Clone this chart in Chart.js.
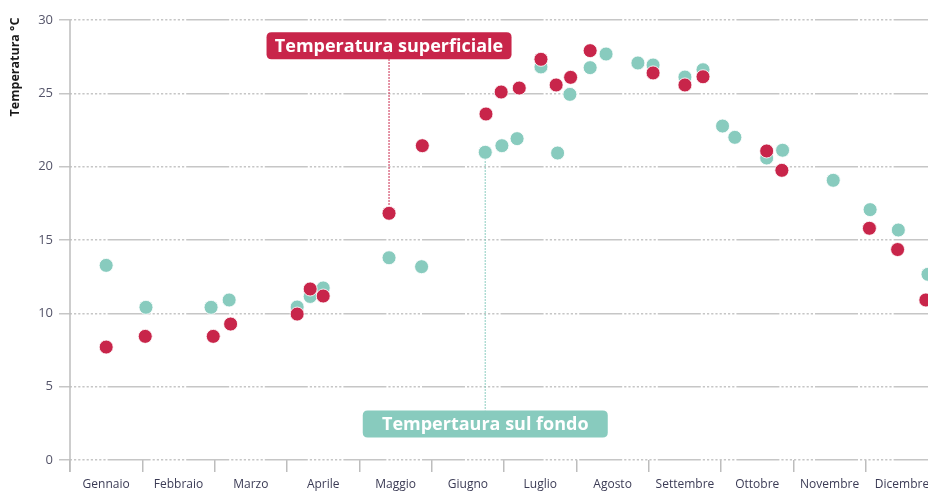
<!DOCTYPE html>
<html lang="it">
<head>
<meta charset="utf-8">
<title>Temperatura</title>
<script src="https://cdn.jsdelivr.net/npm/chart.js@4/dist/chart.umd.min.js"></script>
<style>
  html, body { margin: 0; padding: 0; background: #fff; overflow: hidden; }
  #wrap { width: 928px; height: 493px; position: relative; }
  #chart { display: block; }
</style>
</head>
<body>
<div id="wrap"><canvas id="chart"></canvas></div>
<script>
// months as positions on a continuous axis: 0 = start of Gennaio, 1 = start of Febbraio ...
const monthLabels = ['Gennaio', 'Febbraio', 'Marzo', 'Aprile', 'Maggio', 'Giugno',
  'Luglio', 'Agosto', 'Settembre', 'Ottobre', 'Novembre', 'Dicembre'];
const monthStarts = [0, 1, 2, 3, 4, 5, 6, 7, 8, 9, 10, 11];
const yTicks = [0, 5, 10, 15, 20, 25, 30];
const yTitle = 'Temperatura °C';

// superficial temperature samples
const surfaceDays = [0.50, 1.04, 1.98, 2.22, 3.14, 3.32, 3.50, 4.41, 4.87, 5.75, 5.96, 6.21,
  6.51, 6.72, 6.92, 7.19, 8.06, 8.50, 8.75, 9.63, 9.84, 11.05, 11.44, 11.83];
const surfaceTemps = [7.70, 8.43, 8.43, 9.27, 9.95, 11.66, 11.18, 16.82, 21.43, 23.59, 25.09, 25.36,
  27.32, 25.57, 26.09, 27.91, 26.39, 25.57, 26.13, 21.07, 19.75, 15.80, 14.35, 10.91];

// bottom temperature samples
const bottomDays = [0.50, 1.05, 1.95, 2.20, 3.14, 3.32, 3.50, 4.41, 4.86, 5.74, 5.97, 6.18,
  6.51, 6.74, 6.91, 7.19, 7.41, 7.85, 8.06, 8.50, 8.75, 9.02, 9.19, 9.63, 9.85, 10.55,
  11.06, 11.45, 11.86];
const bottomTemps = [13.27, 10.41, 10.41, 10.91, 10.43, 11.15, 11.73, 13.79, 13.18, 20.98, 21.43, 21.91,
  26.80, 20.93, 24.93, 26.75, 27.68, 27.07, 26.93, 26.11, 26.61, 22.77, 22.00, 20.59, 21.12, 19.07,
  17.07, 15.68, 12.66];

const RED = '#c8254a';
const TEAL = '#88cbbe';
const GRID = '#c6c6c6';
const X_MAX = 11.86;

// callouts hang off one point of a series; labelY is the box centre in °C
const callouts = [
  { text: 'Temperatura superficiale', dataset: 0, index: 7, labelY: 28.25, color: RED },
  { text: 'Tempertaura sul fondo', dataset: 1, index: 9, labelY: 2.45, color: TEAL }
];

function toPoints(xs, ys) {
  return xs.map((x, i) => ({ x: x, y: ys[i] }));
}

// solid run followed by a dotted run, repeated along each horizontal grid line
const gridDash = [43, 2];
for (let i = 0; i < 8; i++) gridDash.push(2.2, 2);

function roundRect(ctx, x, y, w, h, r) {
  ctx.beginPath();
  ctx.moveTo(x + r, y);
  ctx.lineTo(x + w - r, y);
  ctx.quadraticCurveTo(x + w, y, x + w, y + r);
  ctx.lineTo(x + w, y + h - r);
  ctx.quadraticCurveTo(x + w, y + h, x + w - r, y + h);
  ctx.lineTo(x + r, y + h);
  ctx.quadraticCurveTo(x, y + h, x, y + h - r);
  ctx.lineTo(x, y + r);
  ctx.quadraticCurveTo(x, y, x + r, y);
  ctx.closePath();
}

const decorPlugin = {
  id: 'decor',
  beforeDatasetsDraw(chart) {
    const ctx = chart.ctx;
    const area = chart.chartArea;
    const yScale = chart.scales.y;

    // vertical axis line, running down through the month tick marks
    ctx.save();
    ctx.strokeStyle = '#bdbdbd';
    ctx.lineWidth = 1.5;
    ctx.beginPath();
    ctx.moveTo(area.left, area.top);
    ctx.lineTo(area.left, area.bottom + 12);
    ctx.stroke();
    ctx.restore();

    callouts.forEach(c => {
      const pt = chart.getDatasetMeta(c.dataset).data[c.index];
      const cy = yScale.getPixelForValue(c.labelY);
      const boxW = 245, boxH = 27;
      const top = cy - boxH / 2, bottom = cy + boxH / 2;

      ctx.save();
      ctx.strokeStyle = c.color;
      ctx.lineWidth = 1.3;
      ctx.setLineDash([1.5, 1.5]);
      ctx.beginPath();
      if (cy < pt.y) {
        ctx.moveTo(pt.x, bottom);
        ctx.lineTo(pt.x, pt.y);
      } else {
        ctx.moveTo(pt.x, pt.y);
        ctx.lineTo(pt.x, top);
      }
      ctx.stroke();
      ctx.setLineDash([]);

      ctx.fillStyle = c.color;
      roundRect(ctx, pt.x - boxW / 2, top, boxW, boxH, 5);
      ctx.fill();

      ctx.fillStyle = '#fff';
      ctx.font = 'bold 18px "Open Sans", sans-serif';
      ctx.textAlign = 'center';
      ctx.textBaseline = 'middle';
      ctx.fillText(c.text, pt.x, cy + 1);
      ctx.restore();
    });
  },
  afterDraw(chart) {
    const ctx = chart.ctx;
    ctx.save();
    ctx.translate(15, chart.chartArea.top + 47);
    ctx.rotate(-Math.PI / 2);
    ctx.font = 'bold 12.5px "Open Sans", sans-serif';
    ctx.fillStyle = '#1a1a1a';
    ctx.textAlign = 'center';
    ctx.textBaseline = 'middle';
    ctx.fillText(yTitle, 0, 0);
    ctx.restore();
  }
};

Chart.defaults.font.family = '"Open Sans", sans-serif';

new Chart(document.getElementById('chart'), {
  type: 'scatter',
  data: {
    datasets: [
      {
        label: 'Temperatura superficiale',
        data: toPoints(surfaceDays, surfaceTemps),
        backgroundColor: RED,
        borderColor: 'rgba(255,255,255,0.85)',
        borderWidth: 1,
        pointRadius: 7,
        pointHoverRadius: 7
      },
      {
        label: 'Temperatura sul fondo',
        data: toPoints(bottomDays, bottomTemps),
        backgroundColor: TEAL,
        borderColor: 'rgba(255,255,255,0.85)',
        borderWidth: 1,
        pointRadius: 7,
        pointHoverRadius: 7
      }
    ]
  },
  options: {
    responsive: true,
    maintainAspectRatio: false,
    animation: false,
    events: [],
    layout: { autoPadding: false, padding: { top: 20, right: 0, bottom: 0, left: 0 } },
    plugins: {
      legend: { display: false },
      tooltip: { enabled: false }
    },
    scales: {
      x: {
        type: 'linear',
        position: 'bottom',
        min: 0,
        max: X_MAX,
        afterBuildTicks: s => { s.ticks = monthStarts.map(v => ({ value: v })); },
        ticks: { display: false },
        grid: { drawOnChartArea: false, drawTicks: true, tickLength: 12, color: '#bdbdbd', lineWidth: 1.5 },
        border: { display: false },
        afterFit: s => { s.height = 12; s.paddingLeft = 0; s.paddingRight = 0; }
      },
      months: {
        type: 'linear',
        position: 'bottom',
        min: 0,
        max: X_MAX,
        afterBuildTicks: s => { s.ticks = monthStarts.map(v => ({ value: v + 0.5 })); },
        ticks: {
          autoSkip: false,
          maxRotation: 0,
          padding: 5,
          color: '#3b3b55',
          font: { size: 12 },
          callback: v => monthLabels[Math.floor(v)]
        },
        grid: { display: false, drawTicks: false },
        border: { display: false },
        afterFit: s => { s.height = 21; s.paddingLeft = 0; s.paddingRight = 0; }
      },
      y: {
        min: 0,
        max: 30,
        afterBuildTicks: s => { s.ticks = yTicks.map(v => ({ value: v })); },
        ticks: { color: '#55556a', font: { size: 13 }, padding: 6 },
        grid: { color: GRID, lineWidth: 1.5, tickLength: 11, borderDash: gridDash, borderDashOffset: 41 },
        border: { display: false, dash: gridDash, dashOffset: 41 },
        afterFit: s => { s.width = 70; s.paddingTop = 0; s.paddingBottom = 0; }
      }
    }
  },
  plugins: [decorPlugin]
});
</script>
</body>
</html>
